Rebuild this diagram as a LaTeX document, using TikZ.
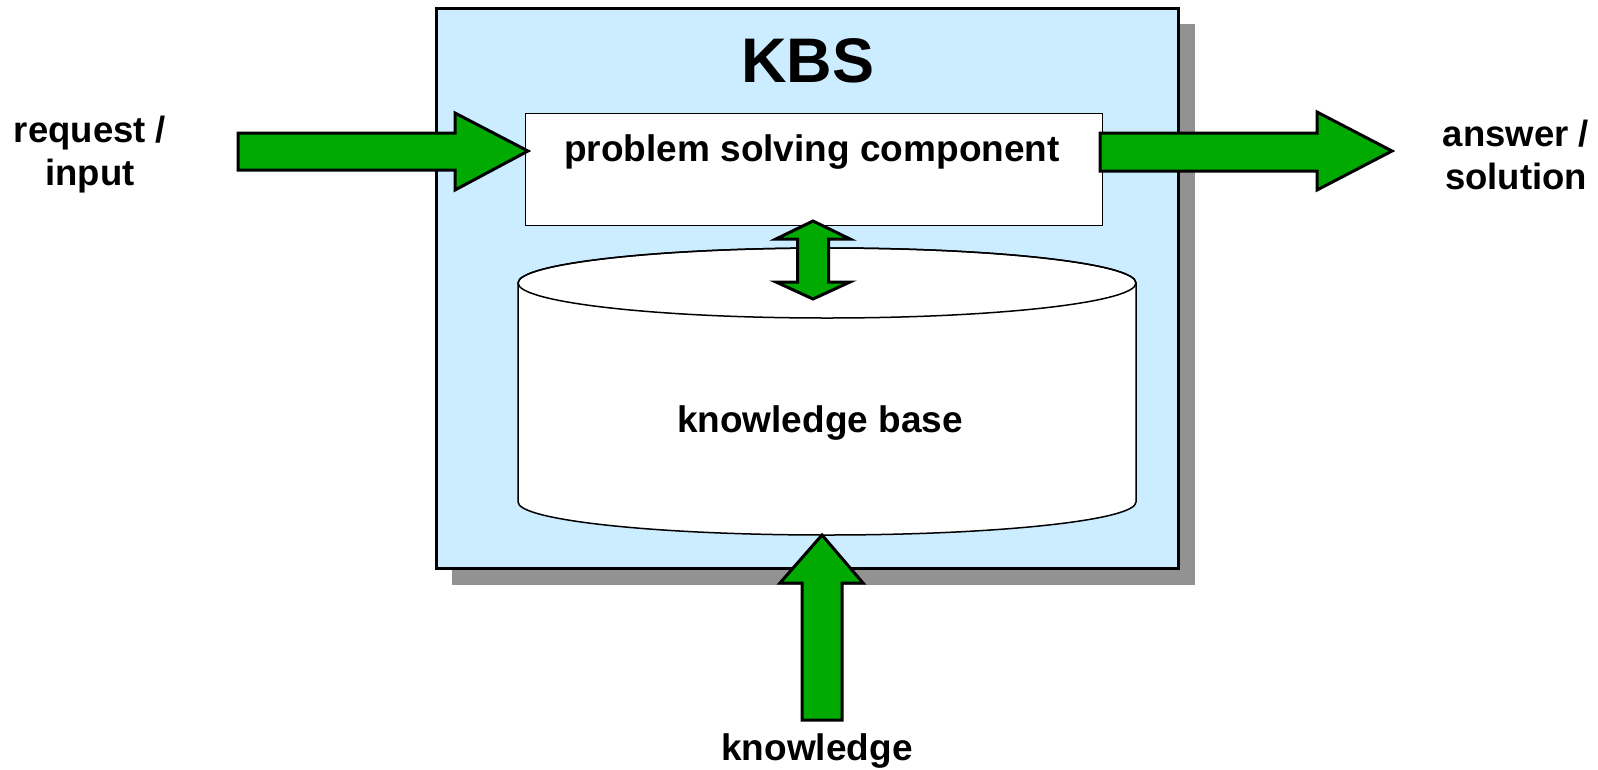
\documentclass[tikz,border=0pt]{standalone}
\usepackage{fontspec}
\setmainfont{Liberation Sans}
\definecolor{kbsblue}{HTML}{CCECFF}
\definecolor{arrgreen}{HTML}{00AA00}
\definecolor{shadowgray}{HTML}{929292}
\begin{document}
\begin{tikzpicture}[x=1pt,y=-1pt,
  blockarrow/.style={draw=black, line width=3pt, fill=arrgreen, line join=miter},
  lbl/.style={font=\bfseries\fontsize{37}{44}\selectfont, align=center, inner sep=0pt},
  sidelbl/.style={font=\bfseries\fontsize{36.5}{43}\selectfont, align=center, inner sep=0pt},
  title/.style={font=\bfseries\fontsize{63}{70}\selectfont, inner sep=0pt}]
\useasboundingbox (0,0) rectangle (1598,769);
% shadow and outer box
\fill[shadowgray] (452,24) rectangle (1195,585);
\node (kbs) [draw, line width=3pt, fill=kbsblue, minimum width=742pt, minimum height=560pt,
  anchor=north west, inner sep=0pt] at (435,7) {};
\node (kbstitle) [title] at (808,61) {KBS};
% problem solving component
\node (psc) [draw, line width=0.8pt, fill=white, minimum width=577pt, minimum height=112pt,
  anchor=north west, inner sep=0pt] at (525,113) {};
\node (psclabel) [lbl] at (812,152) {problem solving component};
% knowledge base cylinder
\path[draw, fill=white, line width=1.5pt] (518,283) -- (518,502)
  arc[start angle=180, end angle=0, x radius=309, y radius=33] -- (1136,283)
  arc[start angle=0, end angle=-180, x radius=309, y radius=35] -- cycle;
\draw[line width=1.5pt] (827,283) ellipse [x radius=309, y radius=35];
\node (kb) [lbl] at (820,423) {knowledge base};
% labels
\node (req) [sidelbl] at (90,155) {request /\\input};
\node (ans) [sidelbl] at (1516,155) {answer /\\solution};
\node (know) [lbl] at (817,751) {knowledge};
% arrows
\path[blockarrow] (238,133) -- (455,133) -- (455,113) -- (528,151) -- (455,190) -- (455,170) -- (238,170) -- cycle;
\path[blockarrow] (1100,133) -- (1317,133) -- (1317,112) -- (1392,151) -- (1317,190) -- (1317,171) -- (1100,171) -- cycle;
\path[blockarrow] (813,221) -- (850,239) -- (828.5,239) -- (828.5,282) -- (850,282) -- (813,299)
  -- (776,282) -- (797.5,282) -- (797.5,239) -- (776,239) -- cycle;
\path[blockarrow] (822,535) -- (863,583) -- (842,583) -- (842,720) -- (802,720) -- (802,583) -- (780,583) -- cycle;
\end{tikzpicture}
\end{document}
